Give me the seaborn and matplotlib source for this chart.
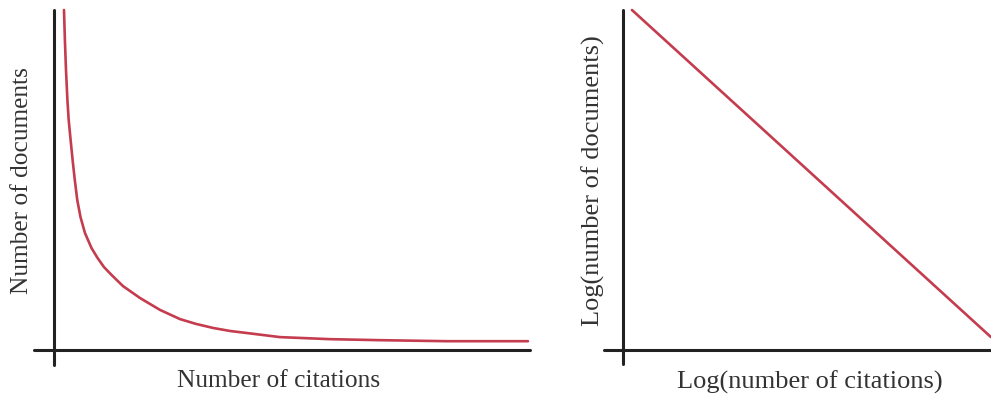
import matplotlib
matplotlib.use('Agg')
import matplotlib.pyplot as plt
import seaborn as sns

# 왼쪽: 인용 횟수별 문서 수 (곡선에서 읽은 값)
citations = [2.10, 2.29, 2.52, 2.82, 3.09, 3.49, 3.91, 4.37, 4.89, 5.57, 6.51, 7.88,
             9.14, 10.50, 12.08, 14.50, 18.07, 22.27, 26.47, 29.8, 33.40, 37.0, 40.55,
             47.48, 57.98, 68.49, 82.56, 99.58]
documents = [100.0, 91.2, 82.4, 73.5, 67.6, 61.8, 55.9, 50.0, 44.1, 39.1, 34.4, 30.0,
             27.1, 24.4, 22.1, 18.8, 15.3, 11.8, 9.1, 7.7, 6.5, 5.6, 5.0,
             3.8, 3.2, 2.9, 2.6, 2.6]

# 오른쪽: 로그-로그 직선
log_citations = [2.4, 100.0]
log_documents = [100.0, 3.8]

sns.set_style('white')
plt.rcParams['font.family'] = ['Liberation Serif', 'DejaVu Serif']

W, H = 991, 394
fig = plt.figure(figsize=(W / 100, H / 100), dpi=100)

line_color = '#c43c4e'
axis_color = '#222222'
text_color = '#333333'


def make_axes(x0, x1, y0, y1):
    # 픽셀 좌표로 축 영역 지정
    return fig.add_axes([x0 / W, 1 - y1 / H, (x1 - x0) / W, (y1 - y0) / H])


# -----------------------------------------------------------
# 왼쪽 그래프
# -----------------------------------------------------------
ax1 = make_axes(34, 530, 10, 365)
sns.lineplot(x=citations, y=documents, ax=ax1, color=line_color, linewidth=1.9,
             sort=False, solid_joinstyle='round')
ax1.set_xlim(-4.2, 100)
ax1.set_ylim(-4.4, 100)
ax1.axhline(0, color=axis_color, linewidth=2.2)
ax1.axvline(0, color=axis_color, linewidth=2.2)
ax1.set_xlabel('Number of citations', fontsize=18.3, color=text_color, va='center')
ax1.set_ylabel('Number of documents', fontsize=18.3, color=text_color, va='center', ha='center')
ax1.xaxis.set_label_coords(0.493, -0.045)
ax1.yaxis.set_label_coords(-0.024, 0.52)

# -----------------------------------------------------------
# 오른쪽 그래프
# -----------------------------------------------------------
ax2 = make_axes(604, 991, 10, 364)
sns.lineplot(x=log_citations, y=log_documents, ax=ax2, color=line_color, linewidth=1.9)
ax2.set_xlim(-5.2, 100)
ax2.set_ylim(-4.1, 100)
ax2.axhline(0, color=axis_color, linewidth=2.2)
ax2.axvline(0, color=axis_color, linewidth=2.2)
ax2.set_xlabel('Log(number of citations)', fontsize=19, color=text_color, va='center')
ax2.set_ylabel('Log(number of documents)', fontsize=19, color=text_color, va='center', ha='center')
ax2.xaxis.set_label_coords(0.532, -0.051)
ax2.yaxis.set_label_coords(-0.028, 0.517)

for ax in (ax1, ax2):
    ax.set_xticks([])
    ax.set_yticks([])
    for s in ax.spines.values():
        s.set_visible(False)
    for ln in ax.get_lines():
        ln.set_clip_on(False)

plt.savefig('out.png', dpi=100)
plt.close()
